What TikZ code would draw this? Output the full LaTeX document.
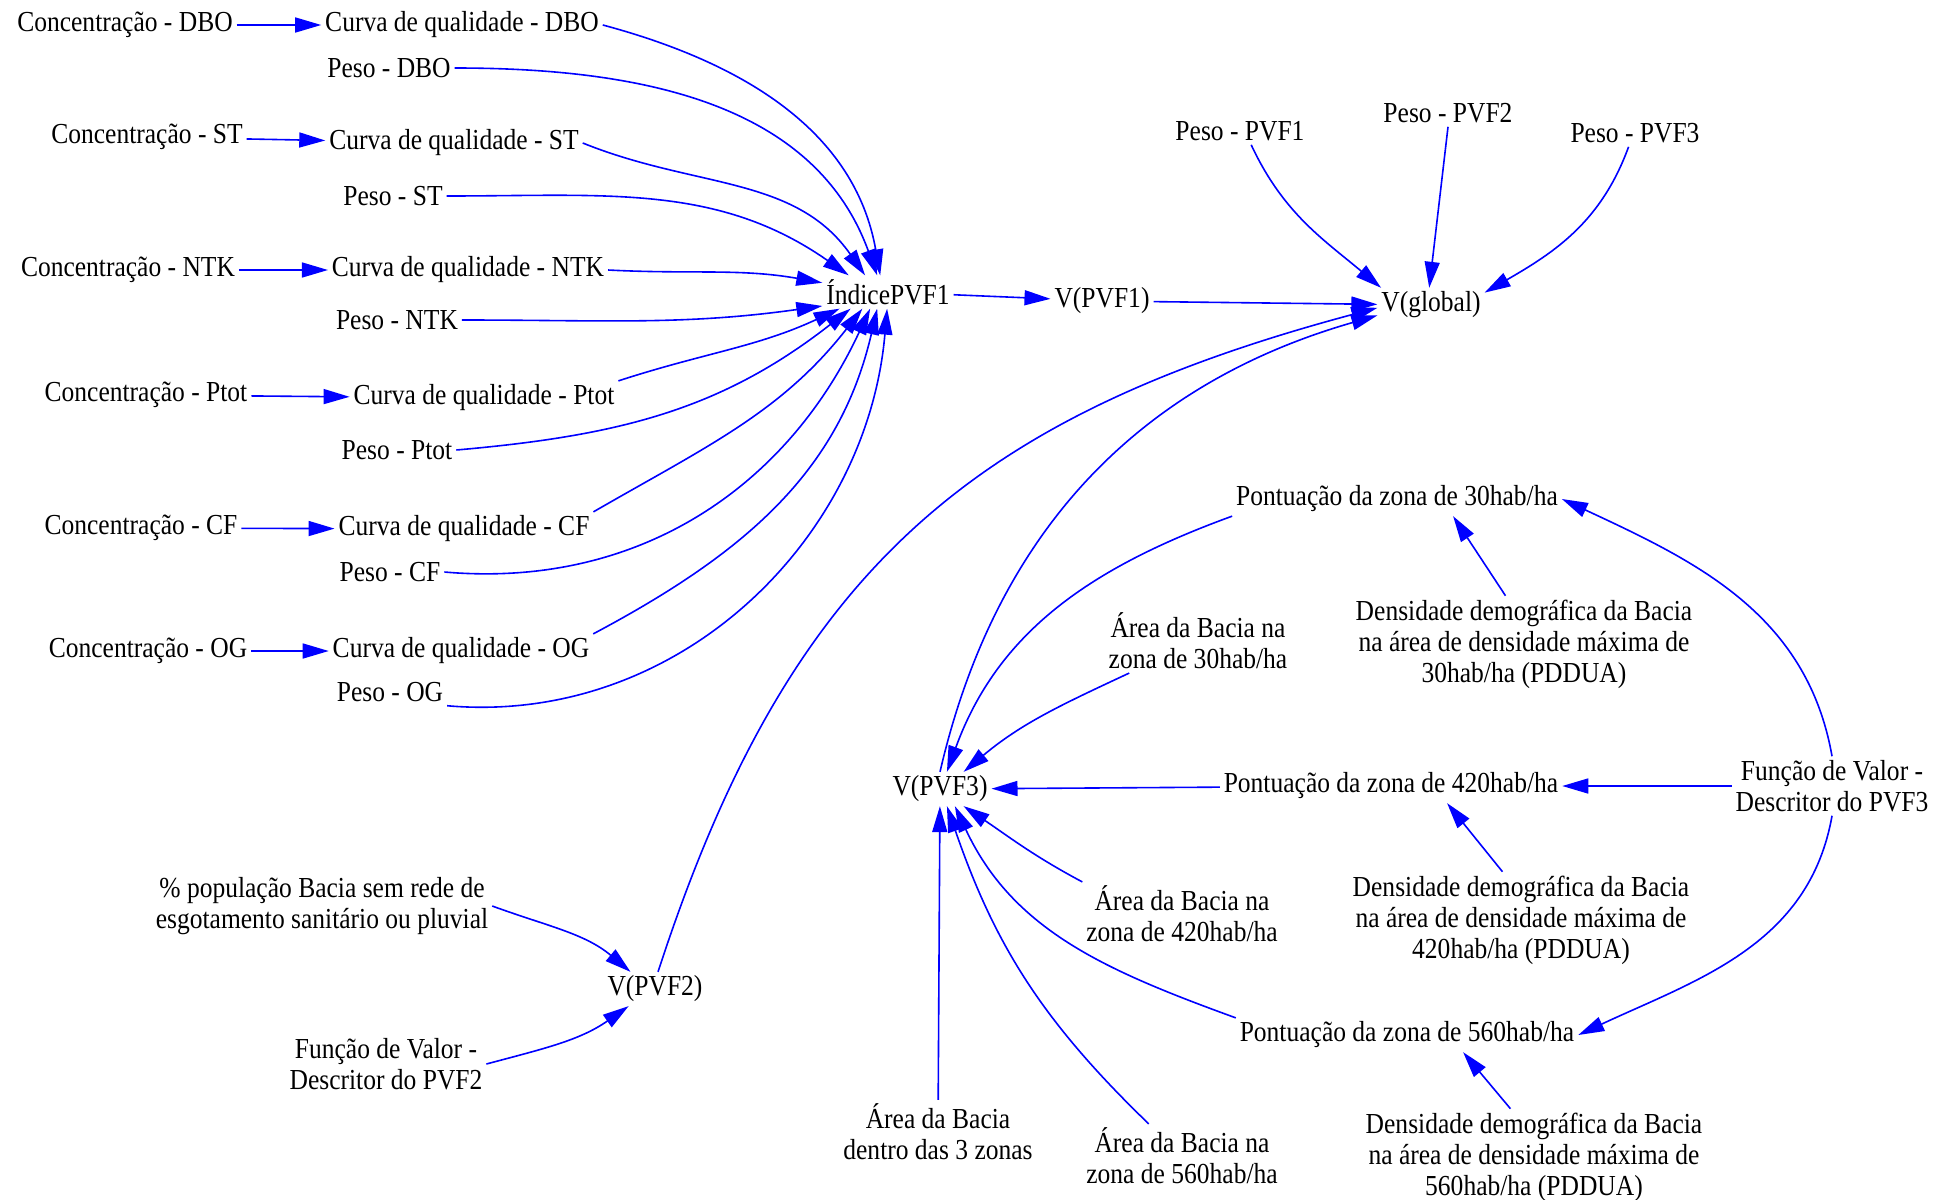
\documentclass[tikz,border=0pt]{standalone}
\usepackage{fontspec}
\setmainfont{Liberation Serif}[FakeStretch=0.88]
\usepackage{xcolor}
\usepackage{tikz}
\usetikzlibrary{arrows.meta}

\begin{document}
\begin{tikzpicture}[x=0.5pt, y=0.5pt,
        var/.style={align=center, inner sep=1pt, outer sep=1pt, font=\fontsize{14.5pt}{15.5pt}\selectfont},
        link/.style={blue, line width=0.8pt, -{Triangle[length=13pt, width=7.5pt]}}]
            \useasboundingbox (0, 0) rectangle (1952, -1199);

            \node[var] (cDBO) at (125, -25) {Concentração - DBO};
            \node[var] (qDBO) at (462, -25) {Curva de qualidade - DBO};
            \node[var] (pDBO) at (389, -68) {Peso - DBO};
            \node[var] (cST) at (147, -137) {Concentração - ST};
            \node[var] (qST) at (454, -143) {Curva de qualidade - ST};
            \node[var] (pST) at (393, -196) {Peso - ST};
            \node[var] (cNTK) at (128, -270) {Concentração - NTK};
            \node[var] (qNTK) at (468, -270) {Curva de qualidade - NTK};
            \node[var] (pNTK) at (397, -320) {Peso - NTK};
            \node[var] (cPtot) at (146, -395) {Concentração - Ptot};
            \node[var] (qPtot) at (484, -398) {Curva de qualidade - Ptot};
            \node[var] (pPtot) at (397, -450) {Peso - Ptot};
            \node[var] (cCF) at (141, -528) {Concentração - CF};
            \node[var] (qCF) at (464, -529) {Curva de qualidade - CF};
            \node[var] (pCF) at (390, -572) {Peso - CF};
            \node[var] (cOG) at (148, -651) {Concentração - OG};
            \node[var] (qOG) at (461, -651) {Curva de qualidade - OG};
            \node[var] (pOG) at (390, -692) {Peso - OG};

            \node[var] (idx) at (888, -292) {ÍndicePVF1};
            \node[var] (v1) at (1102, -301) {V(PVF1)};
            \node[var] (vg) at (1431, -305) {V(global)};
            \node[var] (wP1) at (1240, -131) {Peso - PVF1};
            \node[var] (wP2) at (1448, -113) {Peso - PVF2};
            \node[var] (wP3) at (1635, -133) {Peso - PVF3};

            \node[var] (v2) at (655, -989) {V(PVF2)};
            \node[var] (pop) at (322, -906) {\% população Bacia sem rede de\\esgotamento sanitário ou pluvial};
            \node[var] (f2) at (386, -1064) {Função de Valor -\\Descritor do PVF2};

            \node[var] (v3) at (940, -789) {V(PVF3)};
            \node[var] (z30) at (1397, -499) {Pontuação da zona de 30hab/ha};
            \node[var] (z420) at (1391, -786) {Pontuação da zona de 420hab/ha};
            \node[var] (z560) at (1407, -1035) {Pontuação da zona de 560hab/ha};
            \node[var] (d30) at (1524, -644) {Densidade demográfica da Bacia\\na área de densidade máxima de\\30hab/ha (PDDUA)};
            \node[var] (d420) at (1521, -920) {Densidade demográfica da Bacia\\na área de densidade máxima de\\420hab/ha (PDDUA)};
            \node[var] (d560) at (1534, -1157) {Densidade demográfica da Bacia\\na área de densidade máxima de\\560hab/ha (PDDUA)};
            \node[var] (a30) at (1198, -641) {Área da Bacia na\\zona de 30hab/ha};
            \node[var] (a420) at (1182, -914) {Área da Bacia na\\zona de 420hab/ha};
            \node[var] (a560) at (1182, -1156) {Área da Bacia na\\zona de 560hab/ha};
            \node[var] (a3z) at (938, -1132) {Área da Bacia\\dentro das 3 zonas};
            \node[var] (f3) at (1832, -786) {Função de Valor -\\Descritor do PVF3};

            \path [link] (cDBO) edge (qDBO);
            \path [link] (cST) edge (qST);
            \path [link] (cNTK) edge (qNTK);
            \path [link] (cPtot) edge (qPtot);
            \path [link] (cCF) edge (qCF);
            \path [link] (cOG) edge (qOG);

            \path [link] (qDBO.east) edge[out=-15, in=100] (idx.115);
            \path [link] (pDBO.east) edge[out=0, in=110] (idx.123);
            \path [link] (qST.east) edge[out=-22, in=125] (idx.144);
            \path [link] (pST.east) edge[out=0, in=145] (idx.157);
            \path [link] (qNTK.east) edge[out=-3, in=170] (idx.172);
            \path [link] (pNTK.east) edge[out=0, in=188] (idx.192);
            \path [link] (qPtot.north east) edge[out=18, in=205] (idx.199);
            \path [link] (pPtot.east) edge[out=5, in=218] (idx.204);
            \path [link] (qCF.north east) edge[out=30, in=232] (idx.213);
            \path [link] (pCF.east) edge[out=-5, in=245] (idx.223);
            \path [link] (qOG.north east) edge[out=28, in=257] (idx.237);
            \path [link] (pOG.south east) edge[out=-5, in=265] (idx.267);

            \path [link] (idx) edge (v1);
            \path [link] (v1) edge (vg);
            \path [link] (wP1.-51) edge[out=-65, in=140] (vg.161);
            \path [link] (wP2.south) edge (vg.96);
            \path [link] (wP3.245) edge[out=-110, in=30] (vg.13);
            \path [link] (v2.80) edge[out=72, in=195, looseness=1.1] (vg.183);
            \path [link] (v3.north) edge[out=77, in=196] (vg.191);

            \path [link] (pop.east) edge[out=-20, in=140] (v2.145);
            \path [link] (f2.east) edge[out=15, in=215] (v2.213);

            \path [link] (z30.south west) edge[out=200, in=70] (v3.68);
            \path [link] (a30.205) edge[out=205, in=40] (v3.36);
            \path [link] (z420) edge (v3);
            \path [link] (a420.north west) edge[out=152, in=-34] (v3.324);
            \path [link] (z560.north west) edge[out=160, in=-65] (v3.311);
            \path [link] (a560.136) edge[out=136, in=-71] (v3.292);
            \path [link] (a3z) edge (v3);

            \path [link] (d30.111) edge (z30.-17);
            \path [link] (d420.111) edge (z420.-17);
            \path [link] (d560.116) edge (z560.-17);

            \path [link] (f3.north) edge[out=100, in=-25] (z30.east);
            \path [link] (f3) edge (z420);
            \path [link] (f3.south) edge[out=-100, in=25] (z560.east);
        \end{tikzpicture}
\end{document}
